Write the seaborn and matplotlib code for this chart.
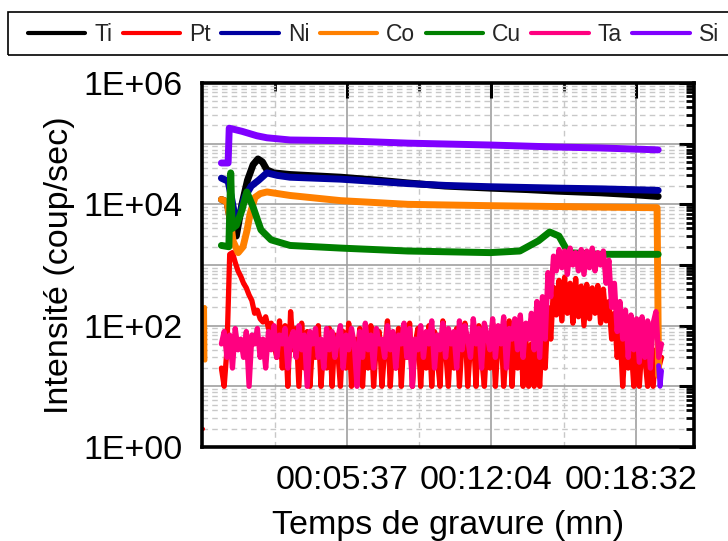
import numpy as np
import matplotlib
matplotlib.use("Agg")
import matplotlib.pyplot as plt
import matplotlib.ticker as mticker
import matplotlib.transforms as mtransforms
from matplotlib.patches import Rectangle
import seaborn as sns

# ---------------- data ----------------
series_names = ["Ti", "Pt", "Ni", "Co", "Cu", "Ta", "Si"]
series_colors = ["#000000", "#FF0000", "#0000A0", "#FF8000", "#008000", "#FF0080", "#8000FF"]

# time in seconds
t_ti = [0, 15, 25, 40, 55, 70, 85, 98, 110, 122, 140, 184, 250, 320, 420, 500, 600, 720, 820, 900, 1015, 1100, 1171]
ti = [1.2e4, 1.1e4, 5e3, 3e3, 1.0e4, 2.5e4, 4.5e4, 5.6e4, 5.0e4, 3.7e4, 3.3e4, 3.1e4, 2.95e4, 2.8e4,
      2.5e4, 2.25e4, 2.0e4, 1.85e4, 1.75e4, 1.65e4, 1.55e4, 1.45e4, 1.35e4]

t_ni = [0, 18, 28, 38, 50, 62, 80, 100, 122, 150, 184, 320, 500, 600, 720, 900, 1015, 1171]
ni = [2.7e4, 2.4e4, 1.2e4, 5.5e3, 7e3, 1.3e4, 2.0e4, 2.5e4, 3.3e4, 3.0e4, 2.8e4, 2.6e4, 2.2e4,
      2.05e4, 1.95e4, 1.85e4, 1.8e4, 1.7e4]

t_co = [0, 15, 25, 31, 45, 58, 69, 77, 90, 104, 122, 184, 320, 500, 720, 900, 1015, 1168, 1172]
co = [1.2e4, 1.1e4, 5e3, 2.5e3, 1.6e3, 2.0e3, 3.8e3, 7e3, 1.3e4, 1.5e4, 1.6e4, 1.4e4, 1.15e4, 1.0e4,
      9.5e3, 9.2e3, 9e3, 8.8e3, 15]

t_cu = [0, 20, 25, 29, 40, 55, 68, 85, 106, 133, 184, 320, 500, 720, 800, 850, 880, 905, 930, 1015, 1171]
cu = [2.1e3, 2.0e3, 3.3e4, 4e3, 4.5e3, 8e3, 1.6e4, 9e3, 3.8e3, 2.6e3, 2.1e3, 1.9e3, 1.7e3, 1.6e3,
      1.7e3, 2.5e3, 3.5e3, 3.0e3, 1.6e3, 1.5e3, 1.5e3]

t_si = [0, 18, 21, 55, 95, 122, 184, 320, 500, 720, 900, 1015, 1171]
si = [4.8e4, 4.8e4, 1.8e5, 1.6e5, 1.35e5, 1.25e5, 1.15e5, 1.12e5, 1.02e5, 9.5e4, 8.8e4, 8.5e4, 7.9e4]

# noisy channels, one reading every 7.42 s
noise_step = 7.42
pt = [20, 10, 40, 1500, 1600, 1100, 800, 650, 500, 420, 320, 260, 160, 180, 130, 115, 140, 90, 110, 50,
      30, 120, 20, 100, 10, 170, 40, 90, 10, 110, 20,
      80, 10, 60, 30, 100, 10, 50, 20, 90, 10, 70, 40, 10, 80, 20, 110, 10, 60, 30, 90,
      10, 70, 20, 100, 10, 50, 80, 10, 40, 120, 10, 60, 20, 90, 10, 70, 30, 110, 10, 50,
      90, 10, 60, 20, 100, 10, 80, 30, 10, 120, 40, 10, 70, 20, 90, 10, 60, 110, 10, 50,
      80, 10, 100, 30, 10, 70, 20, 110, 10, 60, 90, 10, 40, 120, 10, 70, 20, 100, 10, 60, 10, 50,
      10, 40, 10, 90, 20, 200, 60, 430,
      150, 560, 120, 630, 160, 500, 110, 600, 140, 450, 100, 480, 130, 420, 160, 460, 110, 400,
      120, 250, 60, 160, 30, 85, 10, 60, 20, 50, 10, 40, 10, 55, 30, 10, 45, 10, 40, 20, 30]
ta = [50, 80, 30, 70, 20, 90, 40, 60, 30, 80, 10, 70, 50, 90, 30, 60, 20, 80, 40, 100,
      30, 70, 50, 90, 20, 60, 80, 30, 100, 40, 70, 10, 80, 50, 90, 30, 60, 20, 90, 40,
      80, 30, 60, 100, 20, 70, 40, 90, 50, 10, 80, 30, 110, 40, 70, 20, 90, 50, 60, 30,
      100, 40, 80, 20, 70, 50, 110, 30, 90, 10, 60, 40, 100, 30, 80, 50, 120, 20, 70, 40,
      110, 30, 90, 50, 80, 20, 120, 40, 100, 60, 30, 130, 50, 90, 20, 110, 70, 40, 130, 30,
      100, 50, 140, 20, 90, 60, 130, 40, 150, 30, 110, 60, 160,
      40, 250, 30, 300, 60, 750, 300, 1400,
      800, 1800, 900, 1700, 700, 1900, 1000, 1600, 800, 1800, 700, 1700, 900, 1900, 800, 1600, 1000, 1700,
      500, 1200, 200, 500, 80, 250, 60, 180, 30, 150, 40, 130, 25, 140, 30, 120, 20, 110, 170, 30, 50]
t_noise = np.arange(len(ta)) * noise_step

# short isolated pieces of data
t_pre = [-45, -44]
co_pre = [200, 27]
si_pre = [100, 100]
t_pt_pre = [-51, -50]
pt_pre = [2, 2]
t_si_tail = [1172, 1176, 1180]
si_tail = [22, 10, 18]

xtick_seconds = [337, 724, 1112]
xminor_seconds = [143, 530.5, 918]
x_range = [-52, 1267]
y_range = [1, 1e6]

# ---------------- figure ----------------
sns.set_theme(style="white")
plt.rcParams['font.family'] = ['Liberation Sans', 'DejaVu Sans']

fig = plt.figure(figsize=(7.28, 5.41), dpi=100)
ax = fig.add_axes([202 / 728, 1 - 447 / 541, (694 - 202) / 728, (447 - 83) / 541])

smooth_lw = 5.0
noise_lw = 3.8
series = {
    "Ti": (t_ti, ti, smooth_lw),
    "Pt": (t_noise, pt, noise_lw),
    "Ni": (t_ni, ni, smooth_lw),
    "Co": (t_co, co, smooth_lw),
    "Cu": (t_cu, cu, smooth_lw),
    "Ta": (t_noise, ta, noise_lw),
    "Si": (t_si, si, smooth_lw),
}
for name, color in zip(series_names, series_colors):
    tx, vy, lw = series[name]
    sns.lineplot(x=list(tx), y=vy, ax=ax, color=color, linewidth=lw,
                 estimator=None, sort=False, label=name)

sns.lineplot(x=t_pre, y=co_pre, ax=ax, color=series_colors[3], linewidth=3.5,
             estimator=None, sort=False, legend=False)
sns.lineplot(x=t_pre, y=si_pre, ax=ax, color=series_colors[6], linewidth=3.5,
             estimator=None, sort=False, legend=False)
sns.lineplot(x=t_pt_pre, y=pt_pre, ax=ax, color=series_colors[1], linewidth=3.0,
             estimator=None, sort=False, legend=False)
sns.lineplot(x=t_si_tail, y=si_tail, ax=ax, color=series_colors[6], linewidth=3.5,
             estimator=None, sort=False, legend=False)

ax.set_yscale("log")
ax.set_ylim(*y_range)
ax.set_xlim(*x_range)

ax.yaxis.set_major_locator(mticker.LogLocator(base=10, numticks=20))
ax.yaxis.set_minor_locator(mticker.LogLocator(base=10, subs=np.arange(2, 10), numticks=100))


def yfmt(v, pos):
    e = int(round(np.log10(v)))
    return f"1E+{e:02d}" if e % 2 == 0 else ""


ax.yaxis.set_major_formatter(mticker.FuncFormatter(yfmt))
ax.yaxis.set_minor_formatter(mticker.NullFormatter())


def xfmt(v, pos):
    s = int(round(v))
    return f"{s // 3600:02d}:{(s % 3600) // 60:02d}:{s % 60:02d}"


ax.xaxis.set_major_locator(mticker.FixedLocator(xtick_seconds))
ax.xaxis.set_minor_locator(mticker.FixedLocator(xminor_seconds))
ax.xaxis.set_major_formatter(mticker.FuncFormatter(xfmt))

ax.grid(which="major", color="#a0a0a0", linewidth=1.2, linestyle="-")
ax.grid(which="minor", color="#c8c8c8", linewidth=1.0, linestyle=(0, (4, 3)))
ax.set_axisbelow(True)

for sp in ax.spines.values():
    sp.set_visible(True)
    sp.set_color("black")
    sp.set_linewidth(2.6)

ax.tick_params(which="major", direction="in", length=11, width=2.2, color="black",
               top=True, right=True, labelsize=24.5, labelcolor="black")
ax.tick_params(which="minor", direction="in", length=5.5, width=2.0, color="black",
               top=True, right=True)
ax.tick_params(axis="y", which="major", pad=14)
ax.tick_params(axis="x", which="major", pad=13)

# x tick labels sit slightly left of their ticks in the reference
shift = mtransforms.ScaledTranslation(-5 / 100, 0, fig.dpi_scale_trans)
for lab in ax.get_xticklabels():
    lab.set_transform(lab.get_transform() + shift)

ax.set_ylabel("Intensité (coup/sec)", fontsize=24.5, color="black", labelpad=6)
ax.set_xlabel("Temps de gravure (mn)", fontsize=24.5, color="black", labelpad=10)

handles, labels = ax.get_legend_handles_labels()
leg = ax.legend(handles, labels, loc="upper left", bbox_to_anchor=(19 / 728, 1 - 14 / 541),
                bbox_transform=fig.transFigure, ncol=7, fontsize=16.5, frameon=False,
                handlelength=2.5, handletextpad=0.4, columnspacing=0.45, borderpad=0.4,
                borderaxespad=0)
for h in leg.get_lines():
    h.set_linewidth(3.0)

# legend frame (extends past the right edge as in the reference)
fig.patches.append(Rectangle((8 / 728, 1 - 55 / 541), 740 / 728, 43 / 541,
                             transform=fig.transFigure, fill=False, edgecolor="black",
                             linewidth=1.2, zorder=5))

fig.savefig("out.png", dpi=100)
